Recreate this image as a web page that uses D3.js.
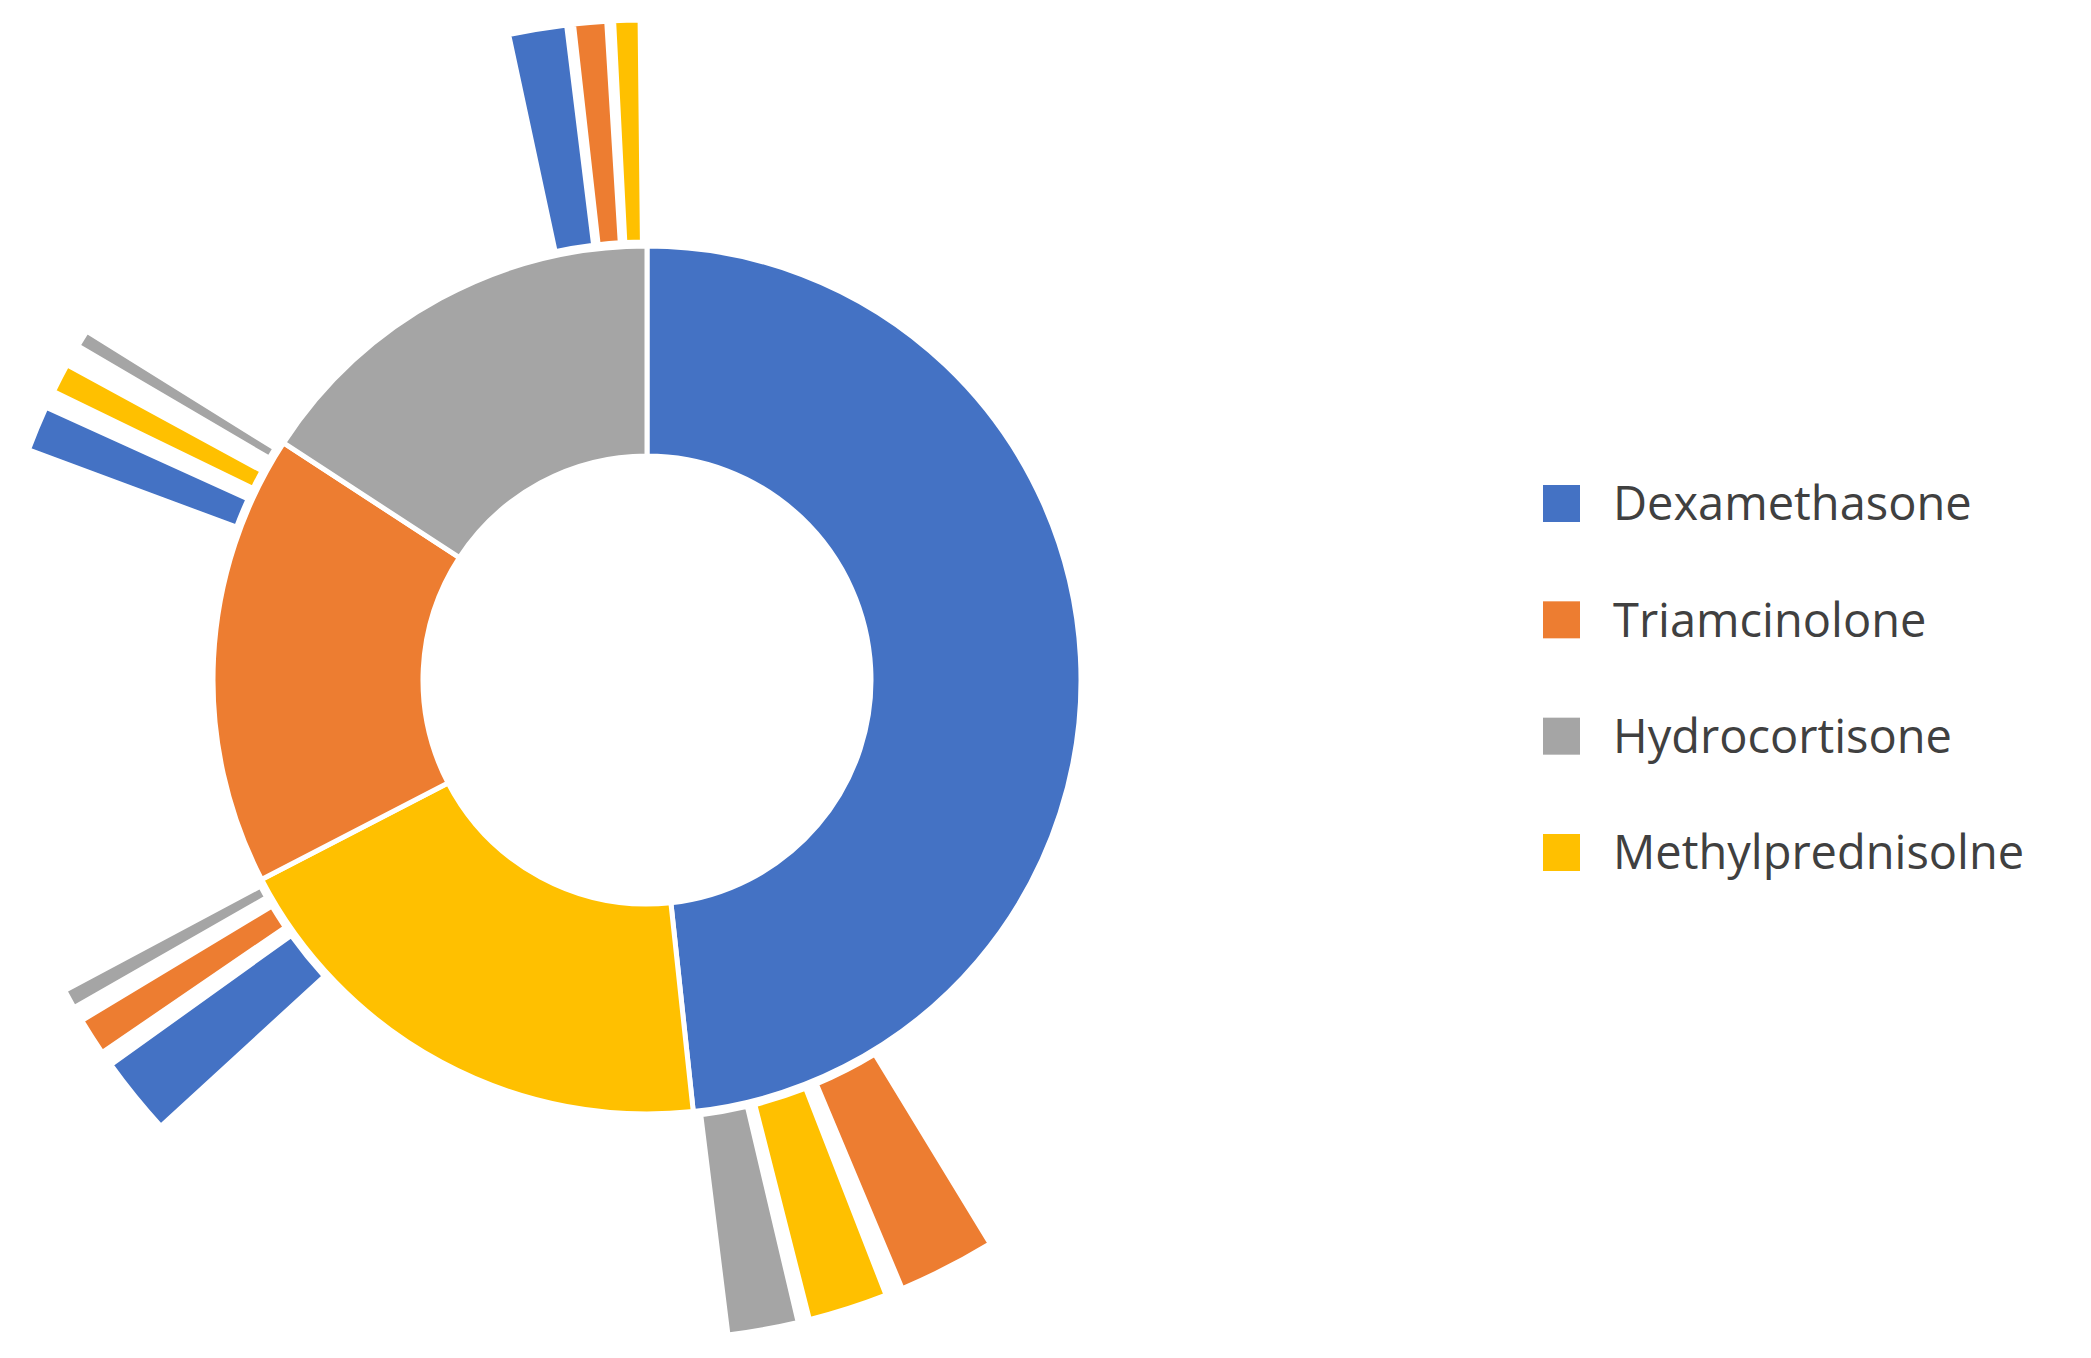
<!DOCTYPE html>
<html>
<head>
<meta charset="utf-8">
<script src="https://cdn.jsdelivr.net/npm/d3@7"></script>
<style>
  body { margin: 0; background: #fff; }
  .legend { font-family: "Open Sans", sans-serif; font-size: 47px; fill: #404040; }
</style>
</head>
<body>
<div id="chart"></div>
<script>
// categories and colours (legend order)
const categories = ["Dexamethasone", "Triamcinolone", "Hydrocortisone", "Methylprednisolne"];
const catColors = ["#4472C4", "#ED7D31", "#A5A5A5", "#FFC000"];

// inner ring, clockwise from top (percent)
const innerCats = ["Dexamethasone", "Methylprednisolne", "Triamcinolone", "Hydrocortisone"];
const innerValues = [48.3, 19.1, 16.8, 15.8];

// outer ring, clockwise from top; "" = empty gap
const outerCats = ["", "Triamcinolone", "", "Methylprednisolne", "", "Hydrocortisone",
    "", "Dexamethasone", "", "Triamcinolone", "", "Hydrocortisone",
    "", "Dexamethasone", "", "Methylprednisolne", "", "Hydrocortisone",
    "", "Dexamethasone", "", "Triamcinolone", "", "Methylprednisolne", ""];
const outerValues = [148.7, 8.6, 1.5, 7, 1, 6.2,
    54.5, 6.9, 1.3, 3.3, 1.3, 1.7,
    48.5, 4, 1.5, 2.6, 1.9, 1.5,
    46, 5.1, 0.6, 2.9, 0.6, 2.3, 0.6];

const width = 2091, height = 1358;
const cx = 647, cy = 680;

const color = d3.scaleOrdinal().domain(categories).range(catColors);

const svg = d3.select("#chart").append("svg")
    .attr("width", width)
    .attr("height", height);

const g = svg.append("g").attr("transform", `translate(${cx},${cy})`);

const pie = d3.pie().sort(null).value(d => d[1]);

// inner donut
g.selectAll(".innerSlice")
    .data(pie(innerCats.map((c, i) => [c, innerValues[i]])))
    .join("path")
    .attr("class", "innerSlice")
    .attr("d", d3.arc().innerRadius(224).outerRadius(434))
    .attr("fill", d => color(d.data[0]))
    .attr("stroke", "#fff")
    .style("stroke-width", "5px");

// outer wedges
g.selectAll(".outerSlice")
    .data(pie(outerCats.map((c, i) => [c, outerValues[i]])).filter(d => d.data[0] !== ""))
    .join("path")
    .attr("class", "outerSlice")
    .attr("d", d3.arc().innerRadius(438).outerRadius(660))
    .attr("fill", d => color(d.data[0]))
    .attr("stroke", "#fff")
    .style("stroke-width", "5px");

// legend
const rowY = d3.scalePoint().domain(categories).range([504, 853]);
const legend = svg.selectAll(".legendRow")
    .data(categories)
    .join("g")
    .attr("class", "legendRow")
    .attr("transform", d => `translate(1543,${rowY(d)})`);
legend.append("rect")
    .attr("x", 0).attr("y", -19)
    .attr("width", 37).attr("height", 37)
    .attr("fill", d => color(d));
legend.append("text")
    .attr("class", "legend")
    .attr("x", 70)
    .attr("dy", "0.35em")
    .text(d => d);
</script>
</body>
</html>
